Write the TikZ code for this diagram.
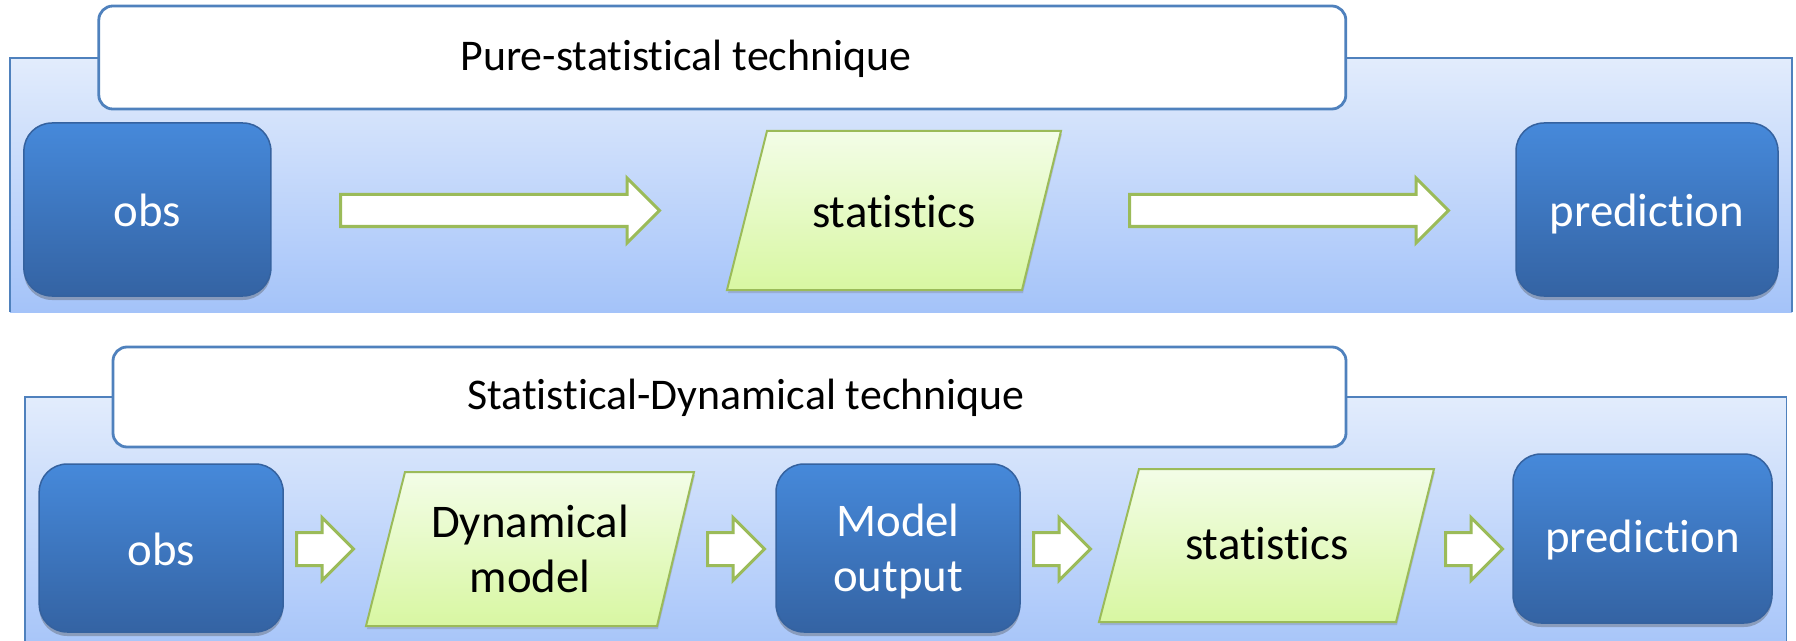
\documentclass[tikz,border=0pt]{standalone}
\usepackage{fontspec}
\setmainfont[Ligatures=NoCommon]{Carlito}
\usetikzlibrary{shapes.arrows,shadows}
\definecolor{frameblue}{HTML}{4F81BD}
\definecolor{bgtop}{HTML}{E2ECFC}
\definecolor{bgbot}{HTML}{A4C3F9}
\definecolor{boxtop}{HTML}{4689DA}
\definecolor{boxbot}{HTML}{3463A3}
\definecolor{boxedge}{HTML}{35629F}
\definecolor{paratop}{HTML}{F3FDE7}
\definecolor{parabot}{HTML}{D8F7A2}
\definecolor{greenedge}{HTML}{9BBB59}
\newcommand\boxfont{\fontsize{47}{55}\selectfont}
\newcommand\titlefont{\fontsize{44}{52}\selectfont}
\tikzset{
  panelbg/.style={top color=bgtop, bottom color=bgbot, draw=none},
  panelline/.style={draw=frameblue, line width=1.5bp},
  titlebox/.style={rectangle, draw=frameblue, line width=2.8bp, fill=white, rounded corners=14bp},
  titletext/.style={font=\titlefont, text=black, inner sep=0pt, anchor=base},
  bluebox/.style={rectangle, rounded corners=28bp, top color=boxtop, bottom color=boxbot,
    draw=boxedge, line width=1.5bp, text=white, font=\boxfont, align=center, inner sep=0pt,
    drop shadow={shadow xshift=0bp, shadow yshift=-4bp, opacity=0.35, fill=black!70}},
  onetext/.style={text height=35bp, text depth=0pt},
  lowtext/.style={text height=28bp, text depth=0pt},
  paraface/.style={top color=paratop, bottom color=parabot, draw=greenedge, line width=2bp,
    drop shadow={shadow xshift=1bp, shadow yshift=-3bp, opacity=0.25, fill=black!60}},
  paratext/.style={text=black, font=\boxfont, align=center, inner sep=0pt},
  blockarrow/.style={single arrow, draw=greenedge, fill=white, line width=3bp,
    single arrow tip angle=90, inner xsep=0pt, anchor=tail},
  longarrow/.style={blockarrow, minimum height=319bp, inner ysep=14.5bp, single arrow head extend=16.5bp},
  shortarrow/.style={blockarrow, minimum height=57bp, inner ysep=15bp, single arrow head extend=15bp},
}
\begin{document}
\begin{tikzpicture}[x=1bp,y=-1bp]
\useasboundingbox (0,0) rectangle (1796,641);

% ---------- top panel ----------
\shade[panelbg] (10,58) rectangle (1792,312);
\draw[panelline] (10,312) -- (10,58) -- (1792,58) -- (1792,312);
\node[titlebox, minimum width=1247bp, minimum height=103bp] (t1box) at (722.3,57.5) {};
\node[titletext] (t1) at (686,71) {Pure-statistical technique};

\node[longarrow] (ta1) at (339,210.5) {};
\node[longarrow] (ta2) at (1128,210.5) {};

\node[bluebox, onetext, minimum width=247bp, minimum height=173bp] (obs1) at (147.4,209.5) {obs};
\node[bluebox, onetext, minimum width=262bp, minimum height=173bp] (pred1) at (1647,209.5) {prediction};

\path[paraface] (727,290) -- (1022,290) -- (1061,131) -- (767,131) -- cycle;
\node[paratext, onetext] (stat1) at (894,210.5) {statistics};

% ---------- bottom panel ----------
\shade[panelbg] (25,397) rectangle (1786.5,660);
\draw[panelline] (25,660) -- (25,397) -- (1786.5,397) -- (1786.5,660);
\node[titlebox, minimum width=1233bp, minimum height=100bp] (t2box) at (729.5,397) {};
\node[titletext] (t2) at (746,409) {Statistical-Dynamical technique};

\node[shortarrow] (ba1) at (295,549) {};
\node[shortarrow] (ba2) at (706,549) {};
\node[shortarrow] (ba3) at (1032,549) {};
\node[shortarrow] (ba4) at (1444,549) {};

\node[bluebox, onetext, minimum width=244bp, minimum height=168bp] (obs2) at (161.2,548) {obs};
\node[bluebox, minimum width=244bp, minimum height=168bp] (mout) at (898,548) {Model\\\raisebox{0pt}[\height][0pt]{output}};
\node[bluebox, lowtext, minimum width=259bp, minimum height=169bp] (pred2) at (1642.5,538.5) {prediction};

\path[paraface] (366,626) -- (657,626) -- (694,472) -- (405,472) -- cycle;
\node[paratext] (dyn) at (530,549) {Dynamical\\model};
\path[paraface] (1099,622) -- (1396,622) -- (1434,469) -- (1139,469) -- cycle;
\node[paratext, lowtext] (stat2) at (1267,545.5) {statistics};
\end{tikzpicture}
\end{document}
